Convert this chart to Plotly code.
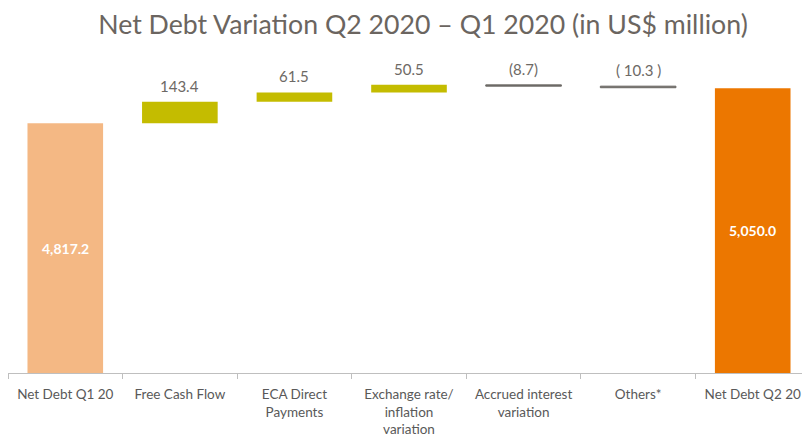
import plotly.graph_objects as go

categories = ["Net Debt Q1 20", "Free Cash Flow", "ECA Direct<br>Payments",
              "Exchange rate/<br>inflation<br>variation", "Accrued interest<br>variation",
              "Others*", "Net Debt Q2 20"]
measures = ["absolute", "relative", "relative", "relative", "relative", "relative", "absolute"]
values = [4817.2, 143.4, 61.5, 50.5, -8.7, -10.3, 5050.0]
inside_labels = ["4,817.2", "", "", "", "", "", "5,050.0"]
top_labels = ["", "143.4", "61.5", "50.5", "(8.7)", "( 10.3 )", ""]
colors = ["#F4B884", "#C4BC00", "#C4BC00", "#C4BC00", "#6E6B67", "#6E6B67", "#EC7700"]
y_range = [3156, 5238]

# compute bases/heights from the data
bases, heights, tops = [], [], []
cum = 0.0
for m, v in zip(measures, values):
    if m == "absolute":
        bases.append(0)
        heights.append(v)
        cum = v
        tops.append(v)
    else:
        bases.append(cum)
        heights.append(v)
        tops.append(max(cum, cum + v))
        cum += v

fig = go.Figure()
fig.add_trace(go.Bar(
    x=categories, y=heights, base=bases,
    marker=dict(color=colors, line=dict(color=colors, width=[0, 0, 0, 0, 1, 1, 0])),
    width=0.66,
    cliponaxis=True,
    hoverinfo="skip",
))

for c, t, lab in zip(categories, tops, top_labels):
    if lab:
        fig.add_annotation(x=c, y=t, text=lab, showarrow=False, yanchor="bottom",
                           yshift=5, font=dict(family="Lato", size=15, color="#6D6965"))

# labels inside the total bars, centred in the visible part of each bar
for c, t, lab in zip(categories, tops, inside_labels):
    if lab:
        fig.add_annotation(x=c, y=(max(y_range[0], 0) + t) / 2, text=lab, showarrow=False,
                           yanchor="middle",
                           font=dict(family="Lato", size=14, color="white", weight="bold"))

# page body has an 8px margin: figure is sized/offset to fit the 810x445 window
fig.update_layout(
    width=802, height=437,
    margin=dict(l=0, r=0, t=52, b=72),
    paper_bgcolor="white", plot_bgcolor="white",
    showlegend=False,
    title=dict(text="Net Debt Variation Q2 2020 \u2013 Q1 2020 (in US$ million)",
               x=0.5175, xanchor="center", y=1 - 17 / 437, yanchor="middle", yref="container",
               font=dict(family="Lato", size=26.7, color="#6B6560")),
    font=dict(family="Lato"),
)
fig.update_xaxes(
    type="category", range=[-0.5, 6.5],
    showline=True, linecolor="#BFBFBF", linewidth=1,
    ticks="outside", tickson="boundaries", ticklen=5, tickcolor="#BFBFBF",
    ticklabelstandoff=9, tickangle=0, automargin=False,
    tickfont=dict(family="Lato", size=13.5, color="#595959"),
    showgrid=False,
)
fig.update_yaxes(range=y_range, visible=False, showgrid=False, zeroline=False)

fig.write_html("out.html", post_script="document.body.style.overflow='hidden';")
